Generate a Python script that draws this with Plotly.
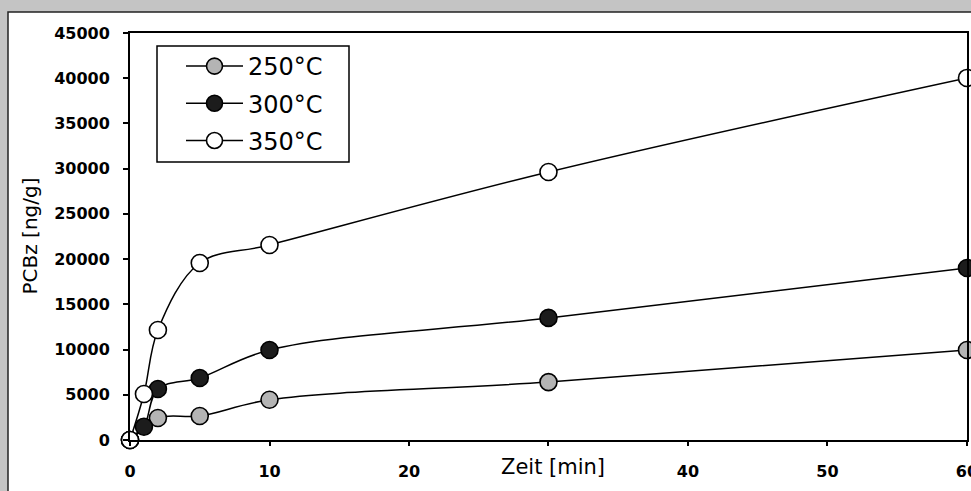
import plotly.graph_objects as go

# Reaction time [min] and PCBz yield [ng/g] per temperature
t_250 = [0, 2, 5, 10, 30, 60]
pcbz_250 = [0, 2430, 2650, 4450, 6400, 9950]

t_300 = [0, 1, 2, 5, 10, 30, 60]
pcbz_300 = [0, 1470, 5640, 6860, 9950, 13500, 19020]

t_350 = [0, 1, 2, 5, 10, 30, 60]
pcbz_350 = [0, 5090, 12160, 19570, 21560, 29630, 40030]

# Axis ticks (the 30 min slot is left blank for the axis title)
x_ticks = [0, 10, 20, 30, 40, 50, 60]
x_ticklabels = ["0", "10", "20", "", "40", "50", "60"]
y_ticks = [0, 5000, 10000, 15000, 20000, 25000, 30000, 35000, 40000, 45000]
y_ticklabels = [str(v) for v in y_ticks]

series = [
    ("250°C", t_250, pcbz_250, "#b4b4b4"),
    ("300°C", t_300, pcbz_300, "#1c1c1c"),
    ("350°C", t_350, pcbz_350, "#ffffff"),
]

FONT = "DejaVu Sans"

fig = go.Figure()
for i, (name, tx, ty, fill) in enumerate(series):
    fig.add_trace(go.Scatter(
        x=tx, y=ty, name=name, mode="lines+markers",
        line=dict(color="black", width=1.5, shape="spline", smoothing=1.0),
        marker=dict(size=17, color=fill, line=dict(color="black", width=1.6)),
        cliponaxis=False, legendgroup=f"g{i}",
    ))

W, H = 971, 491
L, R, T, B = 130, 4, 33, 51
pw, ph = W - L - R, H - T - B

def px_x(p):
    return (p - L) / pw

def px_y(p):
    return (H - B - p) / ph

fig.update_layout(
    width=W, height=H,
    margin=dict(l=L, r=R, t=T, b=B, autoexpand=False),
    paper_bgcolor="#c4c4c4",
    plot_bgcolor="white",
    showlegend=True,
    legend=dict(
        x=px_x(181), y=px_y(44), xanchor="left", yanchor="top",
        bgcolor="rgba(0,0,0,0)", borderwidth=0,
        font=dict(family=FONT, size=24, color="black"),
        itemwidth=57, tracegroupgap=3,
    ),
    shapes=[
        # white sheet with its dark edge
        dict(type="rect", xref="paper", yref="paper", layer="below",
             x0=px_x(8), y0=px_y(12), x1=px_x(W + 20), y1=px_y(H + 20),
             fillcolor="white", line=dict(color="#222", width=1.5)),
        # legend frame
        dict(type="rect", xref="paper", yref="paper", layer="above",
             x0=px_x(157), y0=px_y(46), x1=px_x(349), y1=px_y(162),
             fillcolor="rgba(0,0,0,0)", line=dict(color="black", width=1.5)),
    ],
    annotations=[
        dict(text="Zeit [min]", xref="paper", yref="paper",
             x=px_x(553), y=px_y(467), xanchor="center", yanchor="middle",
             showarrow=False, font=dict(family=FONT, size=21, color="black")),
        dict(text="PCBz [ng/g]", xref="paper", yref="paper", textangle=-90,
             x=px_x(29), y=0.5, xanchor="center", yanchor="middle",
             showarrow=False, font=dict(family=FONT, size=20, color="black")),
    ],
)

fig.update_xaxes(
    range=[0, 60.001], tickvals=x_ticks, ticktext=x_ticklabels,
    showgrid=False, zeroline=False, automargin=False,
    showline=True, linecolor="black", linewidth=2, mirror=True,
    ticks="outside", ticklen=4, tickwidth=1.5, tickcolor="black",
    ticklabelstandoff=12, ticklabeloverflow="allow",
    tickfont=dict(family=FONT, size=16, color="black", weight="bold"),
)
fig.update_yaxes(
    range=[0, 45000], tickvals=y_ticks, ticktext=y_ticklabels,
    showgrid=False, zeroline=False, automargin=False,
    showline=True, linecolor="black", linewidth=2, mirror=True,
    ticks="outside", ticklen=5, tickwidth=1.5, tickcolor="black",
    ticklabelstandoff=10,
    tickfont=dict(family=FONT, size=16, color="black", weight="bold"),
)

fig.write_html("out.html")
